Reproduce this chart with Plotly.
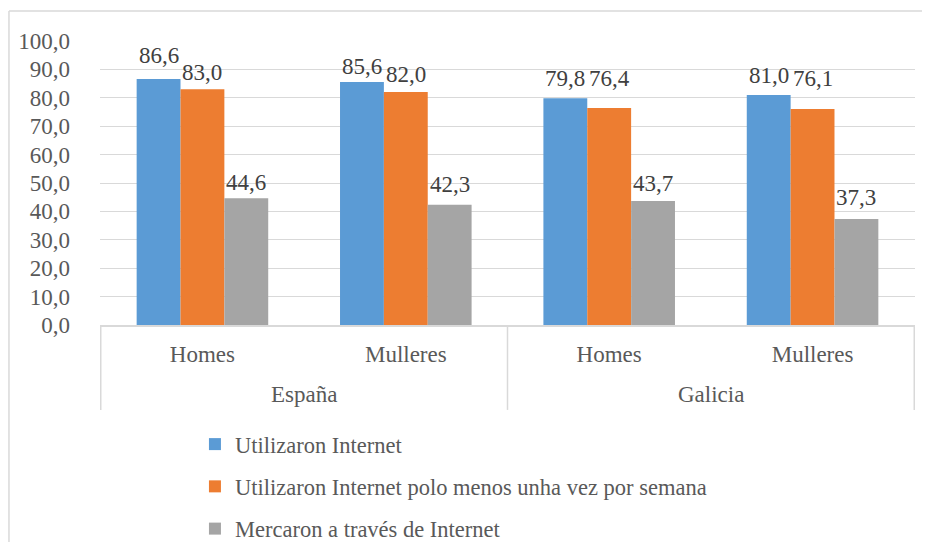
import plotly.graph_objects as go

regions = ["España", "España", "Galicia", "Galicia"]
sexes = ["Homes", "Mulleres", "Homes", "Mulleres"]
categories = ["España Homes", "España Mulleres", "Galicia Homes", "Galicia Mulleres"]
series_names = [
    "Utilizaron Internet",
    "Utilizaron Internet polo menos unha vez por semana",
    "Mercaron a través de Internet",
]
used_internet = [86.6, 85.6, 79.8, 81.0]
weekly_internet = [83.0, 82.0, 76.4, 76.1]
bought_online = [44.6, 42.3, 43.7, 37.3]
series_values = [used_internet, weekly_internet, bought_online]
colors = ["#5B9BD5", "#ED7D31", "#A5A5A5"]
y_ticks = [0, 10, 20, 30, 40, 50, 60, 70, 80, 90, 100]

# style: pixel distance from bar top to the centre of each data label
label_gap_px = [
    [24, 15, 20, 19],
    [17, 18, 30, 30],
    [16, 20, 17, 22],
]

FONT = "'Liberation Serif', 'Times New Roman', serif"
FS = 23
TXT = "#595959"
GRID = "#D9D9D9"

fig = go.Figure()
for i, (name, vals, col) in enumerate(zip(series_names, series_values, colors)):
    fig.add_trace(go.Bar(
        x=categories, y=vals, name=name,
        marker=dict(color=col, line=dict(width=0)),
        legendgroup=f"g{i}",
        hoverinfo="skip",
    ))

bargap = 0.353
bw = (1 - bargap) / 3
annotations = []
for i, vals in enumerate(series_values):
    for j, v in enumerate(vals):
        annotations.append(dict(
            x=j + (i - 1) * bw, y=v, xref="x", yref="y",
            text=f"{v:.1f}".replace(".", ","), showarrow=False,
            yanchor="middle", yshift=label_gap_px[i][j],
            font=dict(family=FONT, size=FS, color="#404040"),
        ))

# group labels
for k, reg in enumerate(["España", "Galicia"]):
    annotations.append(dict(
        x=0.5 + 2 * k, y=-0.246, xref="x", yref="paper",
        text=reg, showarrow=False, yanchor="middle",
        font=dict(family=FONT, size=FS, color=TXT),
    ))

shapes = []
for xd in [-0.5, 1.5, 3.5]:
    shapes.append(dict(type="line", xref="x", yref="paper",
                       x0=xd, x1=xd, y0=0, y1=-0.299,
                       line=dict(color=GRID, width=1.5)))
# outer chart border (top and left edges; the rest lies outside the picture)
shapes.append(dict(type="line", xref="paper", yref="paper",
                   x0=-0.1117, x1=1.2, y0=1.1056, y1=1.1056,
                   line=dict(color=GRID, width=1.5)))
shapes.append(dict(type="line", xref="paper", yref="paper",
                   x0=-0.1117, x1=-0.1117, y0=1.1056, y1=-1.3,
                   line=dict(color=GRID, width=1.5)))

fig.update_layout(
    width=914, height=534,
    margin=dict(l=92, r=7, t=33, b=217, autoexpand=False),
    paper_bgcolor="white", plot_bgcolor="white",
    separators=",.",
    barmode="group", bargap=bargap, bargroupgap=0,
    font=dict(family=FONT, size=FS, color=TXT),
    showlegend=True,
    legend=dict(
        x=0.1165, y=-0.345, xanchor="left", yanchor="top",
        traceorder="grouped", tracegroupgap=10,
        font=dict(family=FONT, size=22.5, color=TXT),
        bgcolor="rgba(0,0,0,0)",
    ),
    annotations=annotations,
    shapes=shapes,
)
fig.update_xaxes(
    tickvals=categories, ticktext=sexes,
    showline=True, linecolor=GRID, linewidth=1.5,
    showgrid=False, ticks="", ticklabelstandoff=8, automargin=False,
    tickfont=dict(family=FONT, size=FS, color=TXT),
    fixedrange=True,
)
fig.update_yaxes(
    range=[0, 100], tickvals=y_ticks, tickformat=".1f",
    showgrid=True, gridcolor=GRID, gridwidth=1,
    zeroline=False, showline=False, ticks="", ticklabelstandoff=29, automargin=False,
    tickfont=dict(family=FONT, size=FS, color=TXT),
    fixedrange=True,
)

fig.write_html("out.html")
